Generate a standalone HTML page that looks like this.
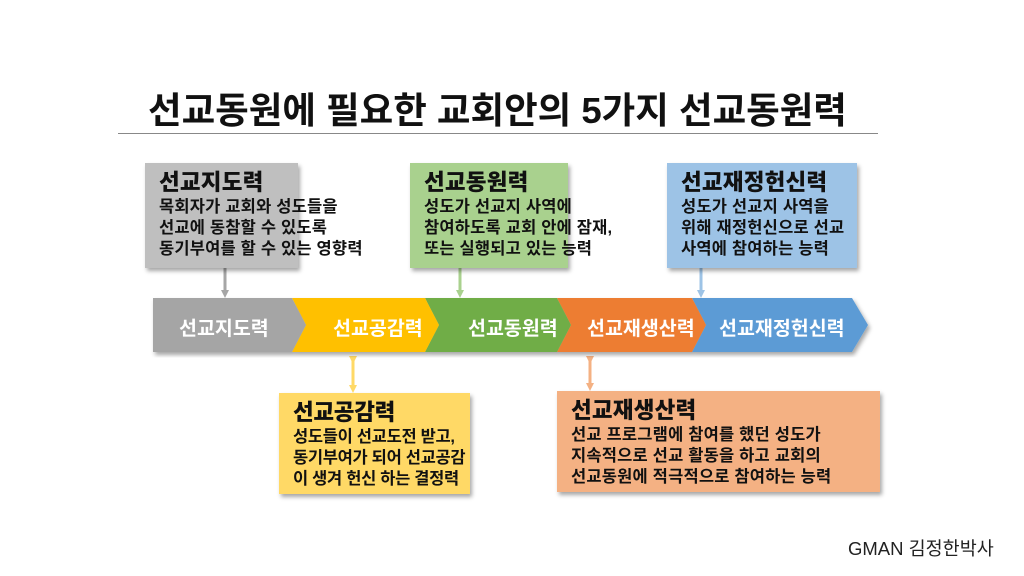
<!DOCTYPE html>
<html><head><meta charset="utf-8"><style>
body{margin:0;width:1024px;height:576px;background:#fff;overflow:hidden;position:relative;font-family:"Liberation Sans","Noto Sans CJK KR",sans-serif}
.t{position:absolute;left:148px;top:81px;font-size:36.5px;font-weight:bold;color:#111;white-space:nowrap}
.line{position:absolute;left:118px;top:133px;width:760px;height:1px;background:#888}
.box{position:absolute;box-shadow:2px 3px 4px rgba(0,0,0,.35);color:#111;font-weight:bold;padding:6px 0 0 14px;box-sizing:border-box;font-size:16.5px;line-height:21px;white-space:nowrap;letter-spacing:0.2px}
.box b{display:block;font-size:22.5px;line-height:28px;margin-bottom:0}
.c{position:absolute;font-size:19.5px;font-weight:bold;color:#fff;white-space:nowrap;top:312px}
.g{position:absolute;left:848px;top:535px;font-size:18.5px;color:#222}
</style></head><body>
<div class="t">선교동원에 필요한 교회안의 5가지 선교동원력</div>
<div class="line"></div>
<svg width="1024" height="576" style="position:absolute;left:0;top:0">
<defs><filter id="s"><feDropShadow dx="2" dy="3" stdDeviation="2" flood-opacity="0.35"/></filter>
<marker id="a" markerUnits="userSpaceOnUse" markerWidth="10" markerHeight="10" refX="5" refY="5" orient="auto"><path d="M1,1 L9,5 L1,9z" fill="context-stroke"/></marker></defs>
<g stroke-width="3" fill="none">
<line x1="225" y1="268" x2="225" y2="294" stroke="#a6a6a6" marker-end="url(#a)"/>
<line x1="460" y1="268" x2="460" y2="294" stroke="#a9d18e" marker-end="url(#a)"/>
<line x1="701" y1="268" x2="701" y2="294" stroke="#9dc3e6" marker-end="url(#a)"/>
<line x1="353" y1="360" x2="353" y2="389" stroke="#ffd966" marker-end="url(#a)" marker-start="url(#a)"/>
<line x1="590" y1="360" x2="590" y2="387" stroke="#f4b183" marker-end="url(#a)" marker-start="url(#a)"/>
</g>
<g filter="url(#s)">
<polygon points="692,298 852,298 868,325 852,352 692,352 706,325" fill="#5b9bd5"/>
<polygon points="557,298 692,298 706,325 692,352 557,352 571,325" fill="#ed7d31"/>
<polygon points="425,298 557,298 571,325 557,352 425,352 439,325" fill="#70ad47"/>
<polygon points="292,298 425,298 439,325 425,352 292,352 306,325" fill="#ffc000"/>
<polygon points="153,298 292,298 306,325 292,352 153,352" fill="#a5a5a5"/>
</g>
</svg>
<div class="c" style="left:179px">선교지도력</div>
<div class="c" style="left:333px">선교공감력</div>
<div class="c" style="left:468px">선교동원력</div>
<div class="c" style="left:587px">선교재생산력</div>
<div class="c" style="left:719px">선교재정헌신력</div>
<div class="box" style="left:145px;top:163px;width:153px;height:105px;background:#bfbfbf"><b>선교지도력</b>목회자가 교회와 성도들을<br>선교에 동참할 수 있도록<br>동기부여를 할 수 있는 영향력</div>
<div class="box" style="left:410px;top:163px;width:158px;height:105px;background:#a9d18e"><b>선교동원력</b>성도가 선교지 사역에<br>참여하도록 교회 안에 잠재,<br>또는 실행되고 있는 능력</div>
<div class="box" style="left:667px;top:163px;width:190px;height:105px;background:#9dc3e6"><b>선교재정헌신력</b>성도가 선교지 사역을<br>위해 재정헌신으로  선교<br>사역에 참여하는 능력</div>
<div class="box" style="left:279px;top:393px;width:191px;height:101px;background:#ffd966;letter-spacing:-0.3px"><b>선교공감력</b>성도들이 선교도전 받고,<br>동기부여가 되어 선교공감<br>이 생겨 헌신 하는 결정력</div>
<div class="box" style="left:557px;top:391px;width:323px;height:101px;background:#f4b183"><b>선교재생산력</b>선교 프로그램에 참여를 했던 성도가<br>지속적으로 선교 활동을 하고 교회의<br>선교동원에 적극적으로 참여하는 능력</div>
<div class="g">GMAN 김정한박사</div>
</body></html>
